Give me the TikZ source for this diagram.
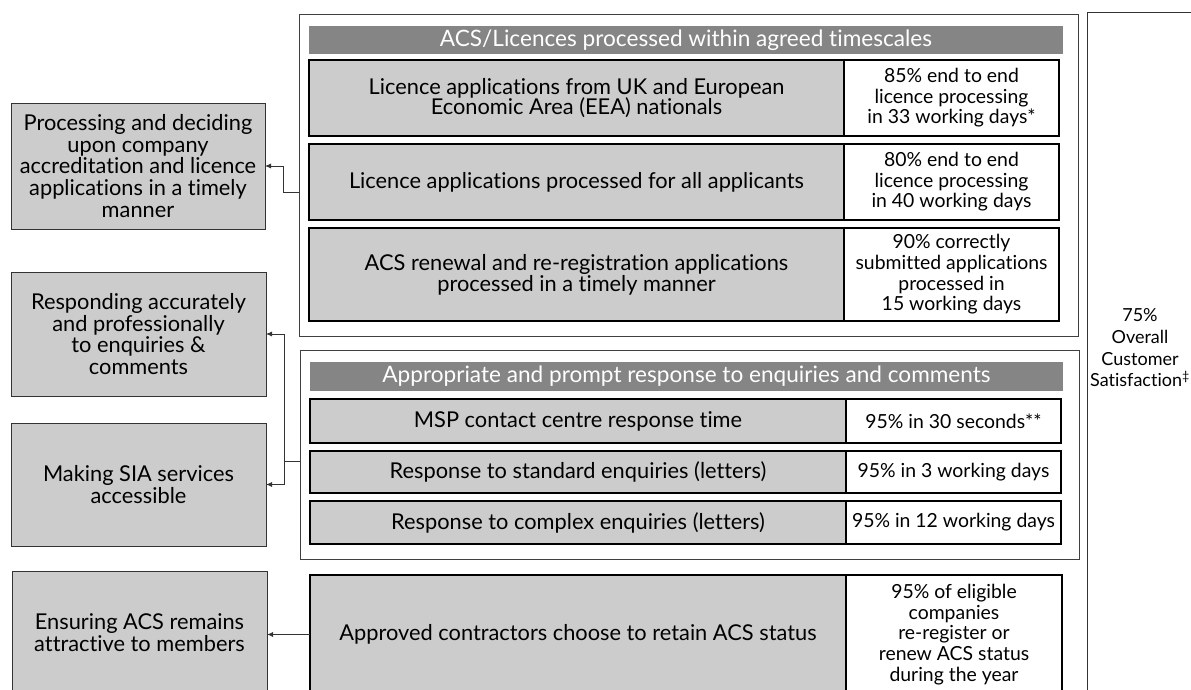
\documentclass[tikz,border=0pt]{standalone}
\usepackage{fontspec}
\setmainfont{Lato}[Ligatures=NoCommon]
\usetikzlibrary{arrows.meta}
\definecolor{cellgrey}{gray}{0.8}
\definecolor{headgrey}{gray}{0.52}
\begin{document}
\begin{tikzpicture}[x=1pt,y=-1pt,
  every node/.style={inner sep=0pt, outer sep=0pt, align=center},
  aimbox/.style={draw=black!80, line width=0.9pt, fill=cellgrey,
    font=\fontsize{21.8}{21.6}\selectfont},
  groupframe/.style={draw=black!75, line width=0.9pt, fill=white},
  headbar/.style={fill=headgrey, text=white, font=\fontsize{22.6}{22}\selectfont},
  measurecell/.style={draw=black, line width=1.2pt, fill=cellgrey,
    font=\fontsize{21.8}{20.8}\selectfont},
  targetcell/.style={draw=black, line width=1.2pt, fill=white,
    font=\fontsize{19.4}{20.6}\selectfont},
  conn/.style={draw=black!80, line width=0.8pt, -{Latex[length=6pt,width=5pt]}},
  link/.style={draw=black!80, line width=0.8pt}]
\useasboundingbox (0,0) rectangle (1191,690);
\clip (0,0) rectangle (1191,690);

% aims on the left
\node[aimbox, minimum width=254pt, minimum height=126pt] (lb1) at (138,166)
  {Processing and deciding\\upon company\\accreditation and licence\\applications in a timely\\manner};
\node[aimbox, minimum width=255pt, minimum height=124pt] (lb2) at (138.5,334)
  {Responding accurately\\and professionally\\to enquiries \&\\comments};
\node[aimbox, minimum width=255pt, minimum height=123pt] (lb3) at (138.5,484.5)
  {Making SIA services\\accessible};
\node[aimbox, minimum width=255pt, minimum height=123pt] (lb4) at (139.5,632.5)
  {Ensuring ACS remains\\attractive to members};

% first group: licence processing
\node[groupframe, minimum width=779pt, minimum height=322pt] (g1) at (688.5,175) {};
\node[headbar, minimum width=754pt, minimum height=28pt] (h1) at (686,40)
  {ACS/Licences processed within agreed timescales};
\node[measurecell, minimum width=535pt, minimum height=76pt] (m1) at (576.5,98)
  {Licence applications from UK and European\\Economic Area (EEA) nationals};
\node[targetcell, minimum width=215pt, minimum height=76pt] (t1) at (951.5,98)
  {85\% end to end\\licence processing\\in 33 working days*};
\node[measurecell, minimum width=535pt, minimum height=76pt] (m2) at (576.5,182)
  {Licence applications processed for all applicants};
\node[targetcell, minimum width=215pt, minimum height=76pt] (t2) at (951.5,182)
  {80\% end to end\\licence processing\\in 40 working days};
\node[measurecell, minimum width=535pt, minimum height=93pt] (m3) at (576.5,274.5)
  {ACS renewal and re-registration applications\\processed in a timely manner};
\node[targetcell, minimum width=215pt, minimum height=93pt] (t3) at (951.5,274.5)
  {90\% correctly\\submitted applications\\processed in\\15 working days};

% second group: enquiries
\node[groupframe, minimum width=779pt, minimum height=209pt] (g2) at (689.5,454.5) {};
\node[headbar, minimum width=753pt, minimum height=29pt] (h2) at (686.5,376.5)
  {Appropriate and prompt response to enquiries and comments};
\node[measurecell, minimum width=536pt, minimum height=44pt] (m4) at (578,421)
  {MSP contact centre response time};
\node[targetcell, minimum width=215pt, minimum height=44pt] (t4) at (953.5,421)
  {95\% in 30 seconds**};
\node[measurecell, minimum width=536pt, minimum height=42pt] (m5) at (578,472)
  {Response to standard enquiries (letters)};
\node[targetcell, minimum width=215pt, minimum height=42pt] (t5) at (953.5,472)
  {95\% in 3 working days};
\node[measurecell, minimum width=536pt, minimum height=43pt] (m6) at (578,522.5)
  {Response to complex enquiries (letters)};
\node[targetcell, minimum width=215pt, minimum height=43pt] (t6) at (953.5,522.5)
  {95\% in 12 working days};

% ACS retention
\node[measurecell, minimum width=536pt, minimum height=119pt] (m7) at (578,634.5)
  {Approved contractors choose to retain ACS status};
\node[targetcell, minimum width=216pt, minimum height=119pt] (t7) at (954,634.5)
  {95\% of eligible\\companies\\re-register or\\renew ACS status\\during the year};

% overall satisfaction column
\coordinate (sattop) at (1087,12);
\draw[link] (1191,12) -- (sattop) -- (1087,700);
\node[font=\fontsize{18}{21.7}\selectfont] (sat) at (1140,348)
  {75\%\\Overall\\Customer\\Satisfaction\textsuperscript{\ddag}};

% connectors
\draw[conn] ([yshift=-17pt]g1.west) -- ++(-16,0) |- (lb1.east);
\draw[link] ([yshift=-6.5pt]g2.west) -- ++(-16,0) coordinate (j2);
\draw[conn] (j2) |- (lb2.east);
\draw[conn] (j2) |- (lb3.east);
\draw[conn] (m7.west) -- (m7.west -| lb4.east);
\end{tikzpicture}
\end{document}
